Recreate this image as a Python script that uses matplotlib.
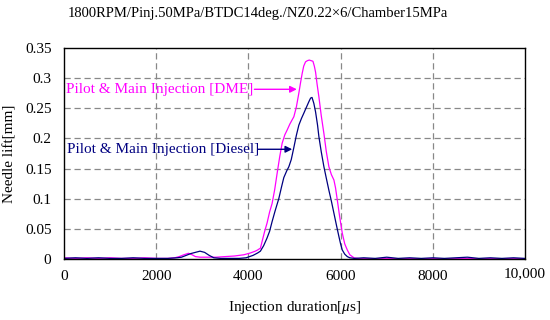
import matplotlib
matplotlib.use("Agg")
import matplotlib.pyplot as plt
import matplotlib.transforms as mtransforms
import numpy as np

plt.rcParams.update({
    "font.family": ["Liberation Serif", "DejaVu Serif"],
    "font.size": 11,
    "mathtext.fontset": "custom",
    "mathtext.rm": "Liberation Serif",
    "mathtext.it": "Liberation Serif:italic",
})

TITLE = "1800RPM/Pinj.50MPa/BTDC14deg./NZ0.22\u00d76/Chamber15MPa"

# Needle lift traces (x in us, y in mm)
diesel_x = [0, 250, 500, 750, 1000, 1250, 1500, 1750, 2000, 2250, 2450, 2550, 2650, 2750,
            2850, 2950, 3050, 3150, 3250, 3400, 3600, 3800, 3950, 4100, 4200, 4260, 4330,
            4400, 4460, 4514, 4580, 4659, 4720, 4768, 4830, 4877, 4930, 4986, 5040, 5094,
            5150, 5203, 5260, 5312, 5350, 5380, 5420, 5457, 5500, 5529, 5580, 5638, 5690,
            5746, 5800, 5855, 5910, 5964, 6000, 6036, 6090, 6145, 6200, 6300, 6500, 6750,
            7000, 7250, 7500, 7750, 8000, 8250, 8500, 8750, 9000, 9250, 9500, 9750, 10000]
diesel_y = [0.001, 0.002, 0.001, 0.002, 0.001, 0.001, 0.002, 0.001, 0.001, 0.001, 0.002,
            0.003, 0.006, 0.009, 0.011, 0.013, 0.011, 0.006, 0.002, 0.001, 0.001, 0.001,
            0.002, 0.006, 0.010, 0.013, 0.022, 0.034, 0.046, 0.062, 0.080, 0.100, 0.120,
            0.135, 0.146, 0.153, 0.165, 0.185, 0.205, 0.222, 0.233, 0.242, 0.252, 0.261,
            0.267, 0.268, 0.258, 0.244, 0.222, 0.203, 0.178, 0.153, 0.134, 0.114, 0.096,
            0.076, 0.056, 0.037, 0.025, 0.015, 0.008, 0.004, 0.002, 0.001, 0.002, 0.001,
            0.003, 0.001, 0.002, 0.001, 0.002, 0.001, 0.002, 0.003, 0.001, 0.002, 0.001,
            0.002, 0.001]

dme_x = [0, 250, 500, 750, 1000, 1250, 1500, 1750, 2000, 2250, 2400, 2500, 2600, 2700,
         2780, 2850, 2950, 3100, 3300, 3500, 3700, 3900, 4043, 4150, 4200, 4261, 4300,
         4350, 4406, 4460, 4514, 4570, 4623, 4680, 4732, 4790, 4841, 4900, 4986, 5040,
         5094, 5130, 5167, 5200, 5239, 5280, 5320, 5360, 5400, 5430, 5457, 5490, 5529,
         5580, 5638, 5690, 5746, 5800, 5855, 5890, 5928, 5980, 6036, 6090, 6145, 6200,
         6290, 6400, 7000, 8000, 9000, 10000]
dme_y = [0.002, 0.001, 0.002, 0.001, 0.002, 0.001, 0.001, 0.002, 0.001, 0.001, 0.002,
         0.004, 0.007, 0.0095, 0.007, 0.004, 0.003, 0.003, 0.003, 0.004, 0.005, 0.007,
         0.010, 0.013, 0.015, 0.018, 0.030, 0.045, 0.060, 0.078, 0.092, 0.115, 0.142,
         0.170, 0.192, 0.206, 0.214, 0.224, 0.236, 0.252, 0.275, 0.292, 0.308, 0.320,
         0.327, 0.329, 0.330, 0.329, 0.328, 0.320, 0.310, 0.290, 0.269, 0.238, 0.208,
         0.178, 0.153, 0.140, 0.131, 0.118, 0.098, 0.070, 0.043, 0.025, 0.015, 0.007,
         0.002, 0.0005, 0.0005, 0.0005, 0.0005, 0.0005]

x_ticks = [0, 2000, 4000, 6000, 8000, 10000]
x_tick_labels = ["0", "2000", "4000", "6000", "8000", "10,000"]
y_ticks = [0, 0.05, 0.1, 0.15, 0.2, 0.25, 0.3, 0.35]
y_tick_labels = ["0", "0.05", "0.1", "0.15", "0.2", "0.25", "0.3", "0.35"]

MAGENTA = "#FF00FF"
NAVY = "#000080"

fig = plt.figure(figsize=(5.5, 3.2), dpi=100)
ax = fig.add_axes([64 / 550, 61 / 320, 461 / 550, 211 / 320])

ax.plot(dme_x, dme_y, color=MAGENTA, linewidth=0.9, zorder=3)
ax.plot(diesel_x, diesel_y, color=NAVY, linewidth=0.9, zorder=4)

ax.set_xlim(0, 10000)
ax.set_ylim(0, 0.35)
ax.set_xticks(x_ticks)
ax.set_xticklabels(x_tick_labels)
ax.set_yticks(y_ticks)
ax.set_yticklabels(y_tick_labels)
ax.tick_params(axis="both", length=0, labelsize=11)
ax.tick_params(axis="y", pad=9)
ax.tick_params(axis="x", pad=8)

# "10,000" sits a little higher in the original
last = ax.get_xticklabels()[-1]
last.set_transform(last.get_transform() +
                   mtransforms.ScaledTranslation(0, 3 / 100, fig.dpi_scale_trans))

# Dashed grid
for xv in x_ticks[1:-1]:
    ax.axvline(xv, color="#888888", linestyle=(0, (5, 3)), linewidth=0.9, zorder=1)
for yv in y_ticks[1:-1]:
    ax.axhline(yv, color="#888888", linestyle=(0, (5, 3)), linewidth=0.9, zorder=1)

for sp in ax.spines.values():
    sp.set_color("black")
    sp.set_linewidth(1.0)
    sp.set_zorder(5)

# Labels with arrows
ax.annotate("", xy=(5050, 0.2815), xytext=(4130, 0.2815),
            arrowprops=dict(arrowstyle="-|>", color=MAGENTA, lw=1.0, mutation_scale=10,
                            shrinkA=0, shrinkB=0))
ax.text(40, 0.2815, "Pilot & Main Injection [DME]", color=MAGENTA, fontsize=11,
        va="center", ha="left")
ax.annotate("", xy=(4950, 0.182), xytext=(4200, 0.182),
            arrowprops=dict(arrowstyle="-|>", color=NAVY, lw=1.0, mutation_scale=10,
                            shrinkA=0, shrinkB=0))
ax.text(60, 0.182, "Pilot & Main Injection [Diesel]", color=NAVY, fontsize=11,
        va="center", ha="left")

fig.text(258 / 550, 1 - 13 / 320, TITLE, ha="center", va="center", fontsize=10.5)
fig.text(294.5 / 550, 1 - 308 / 320, r"Injection duration[$\mu$s]", ha="center", va="center",
         fontsize=11)
fig.text(10 / 550, 1 - 154 / 320, "Needle lift[mm]", rotation=90, ha="center", va="center",
         fontsize=11)

fig.savefig("out.png", dpi=100)
